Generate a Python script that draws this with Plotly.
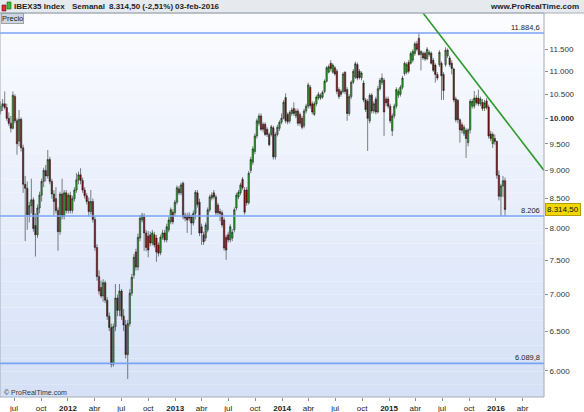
import math
import pandas as pd
import plotly.graph_objects as go

# ---------------- data (weekly IBEX35 candles) ----------------
week_start = "2011-05-16"
n_weeks = 247
dates = pd.date_range(week_start, periods=n_weeks, freq="7D")

open_ = [
10150,10250,10300,10220,10000,9900,9800,10450,9950,9550,
9980,9420,8750,8680,8230,8380,8480,8050,7900,8340,
8560,8800,9000,8900,9200,8800,8580,8500,8300,7950,
8580,8200,8600,8300,8560,8300,8500,8650,8830,8920,
8820,8650,8550,8450,8280,8450,8150,7700,7260,7100,
6980,7170,6920,6700,6550,6080,6560,6950,6780,7050,
6700,6580,6200,6600,7020,7280,7630,7400,7850,8140,
8190,7930,7880,7900,7770,7900,7850,7740,7620,7860,
7930,7820,7980,8110,8270,8260,8440,8670,8600,8770,
8220,8210,8220,8190,8090,8250,8600,8440,8030,7900,
7850,7980,8310,8510,8600,8530,8390,8280,8260,8140,
7860,7900,7820,7850,7980,8340,8530,8600,8840,8650,
8650,8430,9000,9150,9350,9650,9900,10050,9880,9880,
9780,9680,9680,9810,9250,9680,9800,9920,10000,10430,
10080,9950,10100,10200,10050,10150,10080,10000,9850,10150,
10250,10650,10300,10080,10300,10420,10420,10440,10560,10780,
10980,11180,10980,11080,11000,10600,10560,10560,10980,10600,
10100,10450,10760,10870,11150,11000,10860,10740,10380,10350,
9950,10480,10150,10400,10130,10620,10750,10800,10400,10400,
10250,9750,10050,10250,10480,10500,10650,10950,10980,11200,
11180,11250,11400,11630,11760,11380,11410,11410,11280,11380,
11410,11250,11140,10930,11150,11180,10930,11150,11350,11300,
11180,11050,10400,10370,9970,9870,9700,9760,9520,9770,
10250,10250,10420,10420,10300,10330,10210,10360,10230,9690,
9500,9600,9544,8910,8540,8720,8815]

high = [
10350,10400,10560,10300,10120,10050,10560,10500,10000,10170,
10020,9480,8900,8800,8450,8850,8520,8250,8400,8620,
8850,9050,9100,9380,9250,8850,8650,8700,8350,8620,
8850,8650,8650,8600,8620,8550,8700,8950,8980,9040,
8870,8700,8600,8520,8650,8500,8200,7750,7350,7200,
7220,7200,6960,6750,6600,6600,7150,7000,7150,7080,
6800,6650,6650,7080,7300,7600,7680,7920,8220,8260,
8250,7980,7960,7950,7980,7950,7900,7780,7900,7980,
7980,8080,8190,8350,8320,8480,8730,8720,8780,8800,
8260,8260,8270,8230,8300,8650,8650,8500,8080,7950,
8100,8350,8570,8610,8650,8570,8430,8330,8300,8180,
7900,7950,8070,7990,8350,8600,8650,8780,8880,8700,
8700,8990,9250,9450,9700,10000,10100,10100,9920,9920,
9820,9720,9870,9850,9720,9870,9960,10100,10380,10520,
10120,10160,10220,10330,10200,10200,10120,10050,10200,10300,
10750,10700,10350,10350,10480,10550,10520,10580,10820,11120,
11150,11250,11180,11120,11050,10650,10600,10980,11000,10650,
10500,10800,11050,11220,11200,11050,11000,10800,10420,10400,
10520,10520,10350,10450,10680,10850,10950,10850,10450,10450,
10300,10100,10300,10650,10620,10700,10900,11220,11200,11250,
11450,11500,11680,11700,11885,11480,11450,11450,11550,11480,
11450,11300,11180,10980,11480,11220,10980,11550,11520,11350,
11250,11080,10450,10400,10000,9920,9870,9800,9800,10400,
10400,10570,10480,10600,10450,10400,10380,10420,10280,9750,
9720,9680,9560,9000,8760,8900,8870]

low = [
10080,10150,10180,9950,9850,9720,9780,9900,9290,9450,
9350,8600,7800,7980,8100,8250,7950,7560,7850,8250,
8450,8700,8800,8850,8750,8500,8220,8250,7650,7900,
8150,8150,8250,8250,8250,8250,8450,8600,8750,8750,
8600,8500,8400,8200,8230,8100,7650,7200,7000,6950,
6900,6880,6650,6500,6040,6050,6500,6700,6700,6650,
6500,6150,5900,6560,6980,7230,7350,7350,7800,8100,
7650,7640,7550,7720,7730,7700,7480,7560,7580,7820,
7780,7780,7940,8070,8070,8200,8400,8560,8560,8150,
8120,7930,8120,7900,8050,8150,8350,7880,7740,7740,
7800,7940,8270,8470,8490,8220,8220,8120,8020,7650,
7510,7780,7780,7800,7940,8300,8490,8560,8650,8230,
8380,8400,8950,9100,9300,9600,9850,9750,9720,9650,
9630,9450,9640,9200,9200,9640,9750,9880,9980,9900,
9880,9900,10050,10050,10000,9850,9850,9780,9800,10100,
10200,10200,10080,10050,10250,10380,10380,10400,10520,10750,
10950,11000,10950,10900,10500,10400,10450,10520,10500,9950,
10050,10400,10720,10830,10800,10820,10800,10330,10130,9360,
9900,10100,10100,10080,10100,10580,10700,9650,10250,10200,
9900,9650,10000,10200,10420,10450,10600,10900,10930,10950,
11150,11200,11350,11450,11350,11020,11250,11230,11250,11330,
11150,10980,10750,10800,11100,10380,10380,11100,11300,11100,
10930,10330,9920,9900,9520,9700,9650,9230,9450,9700,
10200,10200,10280,10250,10250,10150,10150,10180,9600,9550,
9420,9480,8850,8470,8206,8530,8200]

close = [
10250,10300,10220,10000,9900,9800,10480,9950,9500,9980,
9420,8750,8680,8230,8380,8480,8000,7900,8340,8560,
8800,9000,8900,9200,8800,8580,8450,8300,7950,8580,
8200,8600,8300,8560,8300,8500,8650,8830,8920,8820,
8650,8550,8450,8280,8450,8150,7700,7260,7050,6980,
7170,6920,6700,6550,6080,6560,6950,6780,7050,6700,
6580,6200,6600,7020,7250,7550,7400,7860,8170,8220,
7930,7700,7660,7770,7930,7740,7630,7610,7860,7930,
7820,8030,8140,8310,8110,8440,8690,8600,8740,8190,
8170,8140,8170,8090,8250,8610,8400,7930,7930,7790,
8060,8310,8530,8560,8530,8260,8260,8250,8060,7690,
7660,7820,8030,7940,8310,8560,8610,8740,8690,8270,
8430,8950,9200,9400,9650,9950,10050,9780,9780,9680,
9680,9480,9830,9250,9680,9820,9920,10000,10330,9950,
9930,10120,10170,10100,10150,9900,9900,9820,10150,10250,
10700,10260,10130,10300,10440,10500,10480,10540,10780,11080,
11100,11060,11140,10940,10560,10450,10500,10940,10560,10100,
10450,10760,11000,11170,10850,10860,10960,10380,10180,10000,
10480,10150,10300,10130,10620,10800,10850,10130,10320,10250,
9950,10050,10250,10600,10560,10650,10850,11180,11150,11000,
11400,11450,11630,11500,11380,11450,11300,11280,11500,11430,
11180,11020,10930,10850,11430,10900,10580,11480,11480,11150,
11060,10380,9970,9970,9770,9760,9820,9600,9770,10350,
10350,10420,10320,10300,10400,10200,10320,10220,9650,9600,
9680,9544,8910,8540,8720,8815,8314.5]

levels = [11884.6, 8206, 6089.8]
level_labels = ["11.884,6", "8.206", "6.089,8"]
trend_dates = ["2015-03-13", "2016-06-13"]
trend_values = [12815, 9000]
last_price = 8314.5
last_price_label = "8.314,50"

ytick_vals = [6000, 6500, 7000, 7500, 8000, 8500, 9000, 9500, 10000, 10500, 11000, 11500]
ytick_text = ["6.000", "6.500", "7.000", "7.500", "8.000", "8.500", "9.000", "9.500",
              "<b>10.000</b>", "10.500", "11.000", "11.500"]
xtick_vals = ["2011-07-01", "2011-10-01", "2012-01-01", "2012-04-01", "2012-07-01", "2012-10-01",
              "2013-01-01", "2013-04-01", "2013-07-01", "2013-10-01", "2014-01-01", "2014-04-01",
              "2014-07-01", "2014-10-01", "2015-01-01", "2015-04-01", "2015-07-01", "2015-10-01",
              "2016-01-01", "2016-04-01"]
xtick_text = ["jul", "oct", "<b>2012</b>", "abr", "jul", "oct", "<b>2013</b>", "abr", "jul", "oct",
              "<b>2014</b>", "abr", "jul", "oct", "<b>2015</b>", "abr", "jul", "oct", "<b>2016</b>", "abr"]

# ---------------- layout geometry ----------------
W, H = 584, 412
ML, MR, MT, MB = 0, 40, 13, 15
PW, PH = W - ML - MR, H - MT - MB
FONT = "Liberation Sans"

def px_x(px):
    return (px - ML) / PW

def px_y(py):
    return (H - MB - py) / PH

fig = go.Figure()

fig.add_trace(go.Candlestick(
    x=dates, open=open_, high=high, low=low, close=close,
    increasing=dict(fillcolor="#2fae2f", line=dict(color="#1a1a1a", width=0.55)),
    decreasing=dict(fillcolor="#8e0f0f", line=dict(color="#1a1a1a", width=0.55)),
    whiskerwidth=0, showlegend=False, hoverinfo="skip",
))

for lv in levels:
    fig.add_trace(go.Scatter(
        x=["2011-01-01", "2016-12-31"], y=[lv, lv], mode="lines",
        line=dict(color="#78a4f4", width=1.6), showlegend=False, hoverinfo="skip"))

fig.add_trace(go.Scatter(
    x=trend_dates, y=trend_values, mode="lines",
    line=dict(color="#2e9a2e", width=1.6), showlegend=False, hoverinfo="skip"))

shapes = []
# plot-area vertical gradient (white to light blue)
N = 30
top = (251, 252, 255)
bot = (213, 225, 247)
for i in range(N):
    t = (i + 0.5) / N
    c = tuple(round(bot[j] + (top[j] - bot[j]) * t) for j in range(3))
    shapes.append(dict(type="rect", xref="paper", yref="paper", x0=0, x1=1,
                       y0=i / N, y1=(i + 1) / N, fillcolor="rgb(%d,%d,%d)" % c,
                       line=dict(width=0), layer="below"))
# header bar
shapes.append(dict(type="rect", xref="paper", yref="paper", x0=px_x(0), x1=px_x(W),
                   y0=px_y(MT), y1=px_y(0), fillcolor="#e6e9ed",
                   line=dict(width=0), layer="below"))
shapes.append(dict(type="line", xref="paper", yref="paper", x0=px_x(0), x1=px_x(W),
                   y0=px_y(MT), y1=px_y(MT), line=dict(color="#a8b0ba", width=1)))
# plot frame
shapes.append(dict(type="rect", xref="paper", yref="paper", x0=0, x1=1, y0=0, y1=1,
                   line=dict(color="#a3acb6", width=1), fillcolor="rgba(0,0,0,0)"))
# header icon (small red and green candle)
shapes.append(dict(type="rect", xref="paper", yref="paper", x0=px_x(2), x1=px_x(6),
                   y0=px_y(11), y1=px_y(5), fillcolor="#d83030", line=dict(color="#701010", width=0.6)))
shapes.append(dict(type="rect", xref="paper", yref="paper", x0=px_x(7), x1=px_x(11),
                   y0=px_y(9), y1=px_y(2), fillcolor="#3cbc3c", line=dict(color="#106010", width=0.6)))

annotations = []
hy = px_y(6.5)
for txt, xpos in [("IBEX35 Index", 12), ("Semanal", 70), ("8.314,50 (-2,51%)", 107), ("03-feb-2016", 173)]:
    annotations.append(dict(text="<b>%s</b>" % txt, xref="paper", yref="paper", x=px_x(xpos), y=hy,
                            xanchor="left", yanchor="middle", showarrow=False,
                            font=dict(family=FONT, size=8, color="#1e1e1e")))
annotations.append(dict(text="<b>www.ProRealTime.com</b>", xref="paper", yref="paper", x=px_x(581), y=hy,
                        xanchor="right", yanchor="middle", showarrow=False,
                        font=dict(family=FONT, size=8, color="#1e1e1e")))
annotations.append(dict(text="Precio", xref="paper", yref="paper", x=0.001, y=1, xanchor="left",
                        yanchor="top", showarrow=False, bgcolor="#cdd6e0", bordercolor="#98a3ae",
                        borderwidth=1, borderpad=0, font=dict(family=FONT, size=7.5, color="#222")))
for lv, lab in zip(levels, level_labels):
    annotations.append(dict(text=lab, xref="paper", yref="y", x=px_x(542), y=math.log10(lv),
                            xanchor="right", yanchor="bottom", showarrow=False, yshift=-1,
                            font=dict(family=FONT, size=7.5, color="#222")))
annotations.append(dict(text=last_price_label, xref="paper", yref="y", x=px_x(545), y=math.log10(last_price),
                        xanchor="left", yanchor="middle", showarrow=False, bgcolor="#f2d600",
                        bordercolor="#b59d00", borderwidth=1, borderpad=1,
                        font=dict(family=FONT, size=8, color="#111")))
annotations.append(dict(text="© ProRealTime.com", xref="paper", yref="paper", x=0.004, y=px_y(392),
                        xanchor="left", yanchor="middle", showarrow=False,
                        font=dict(family=FONT, size=7, color="#333")))

fig.update_layout(
    width=W, height=H, margin=dict(l=ML, r=MR, t=MT, b=MB, pad=0),
    paper_bgcolor="white", plot_bgcolor="rgba(0,0,0,0)", boxgap=0.05,
    shapes=shapes, annotations=annotations, showlegend=False,
    xaxis=dict(type="date", range=["2011-05-14", "2016-06-13"], tickvals=xtick_vals, ticktext=xtick_text,
               ticks="outside", ticklen=3, tickcolor="#8a929a", showgrid=False, zeroline=False,
               showline=False, rangeslider=dict(visible=False),
               tickfont=dict(family=FONT, size=8, color="#222")),
    yaxis=dict(type="log", side="right", range=[math.log10(5689), math.log10(12377)],
               tickvals=ytick_vals, ticktext=ytick_text, ticks="outside", ticklen=3, tickcolor="#8a929a",
               showgrid=False, zeroline=False, showline=False,
               tickfont=dict(family=FONT, size=8, color="#333")),
)

fig.write_html("out.html", config={"displayModeBar": False},
               post_script="document.body.style.margin='0';document.body.style.overflow='hidden';")
